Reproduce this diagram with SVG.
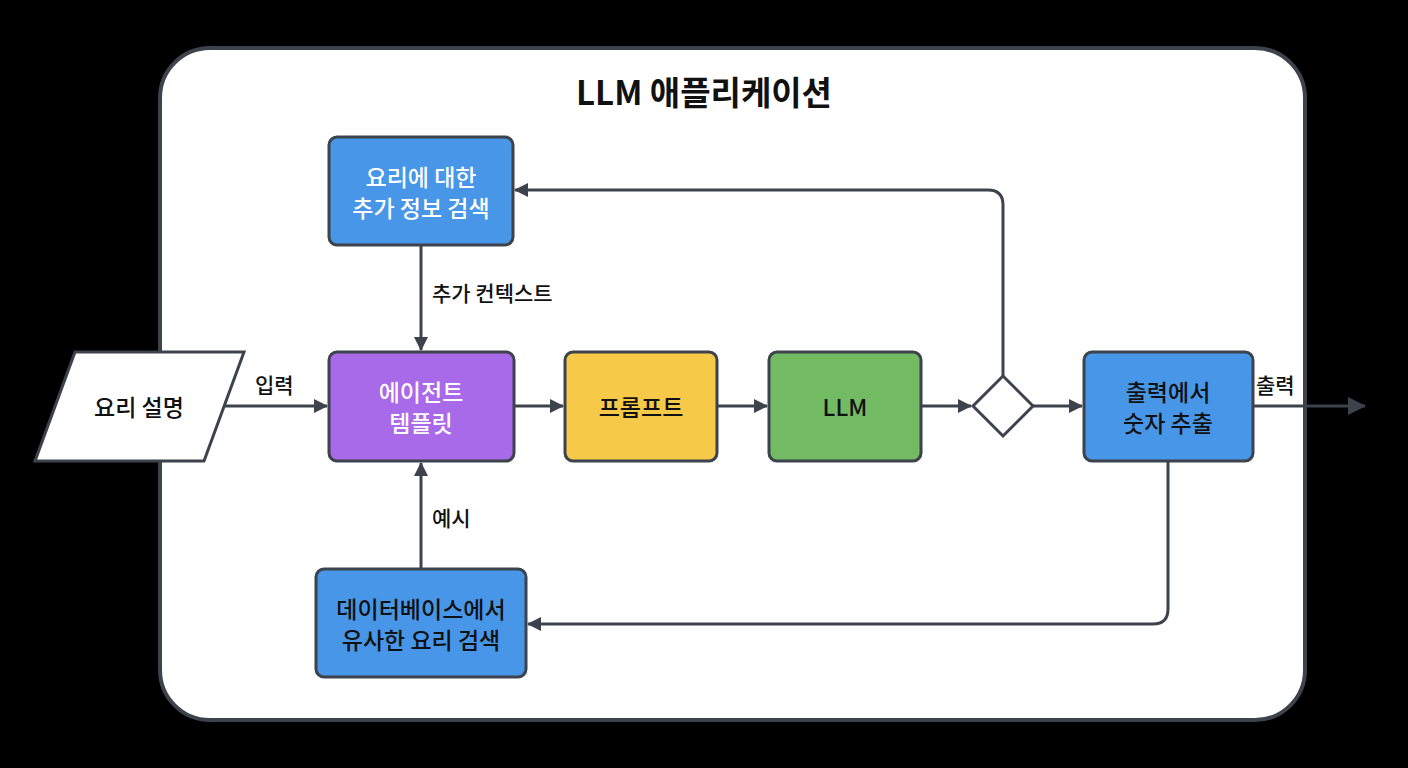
<svg xmlns="http://www.w3.org/2000/svg" width="1408" height="768" viewBox="0 0 1408 768">
<defs>
<marker id="ah" markerWidth="14" markerHeight="14" refX="13" refY="7" orient="auto" markerUnits="userSpaceOnUse" viewBox="0 0 14 14"><path d="M0,0 L14,7 L0,14 z" fill="#3d434c"/></marker>
<marker id="ah2" markerWidth="18" markerHeight="18" refX="17" refY="9" orient="auto" markerUnits="userSpaceOnUse" viewBox="0 0 18 18"><path d="M0,0 L18,9 L0,18 z" fill="#3d434c"/></marker>
<style>
.t{font-family:"Noto Sans CJK KR","Noto Sans",sans-serif;font-size:23px;font-weight:500;text-anchor:middle;dominant-baseline:central}
.w{fill:#fff}
.k{fill:#111}
.b{stroke:#3d434c;stroke-width:3}
.c{fill:none;stroke:#3d434c;stroke-width:3;marker-end:url(#ah)}
.l{font-family:"Noto Sans CJK KR","Noto Sans",sans-serif;font-size:21px;font-weight:500;fill:#111;dominant-baseline:central}
</style>
</defs>
<rect width="1408" height="768" fill="#000"/>
<rect x="160" y="48" width="1145" height="672" rx="50" fill="#fff" stroke="#3d434c" stroke-width="4"/>
<text x="704" y="91" class="t k" style="font-size:33px;font-weight:700">LLM 애플리케이션</text>
<g id="connectors">
<line x1="224" y1="406" x2="327" y2="406" class="c"/>
<text x="255" y="384" class="l">입력</text>
<line x1="514" y1="406" x2="563" y2="406" class="c"/>
<line x1="717" y1="406" x2="767" y2="406" class="c"/>
<line x1="921" y1="406" x2="971" y2="406" class="c"/>
<line x1="1033" y1="406" x2="1082" y2="406" class="c"/>
<line x1="1253" y1="406" x2="1365" y2="406" class="c" style="marker-end:url(#ah2)"/>
<text x="1256" y="384" class="l">출력</text>
<path d="M1003,376 V205 Q1003,190 988,190 H515" class="c"/>
<line x1="421" y1="245" x2="421" y2="350" class="c"/>
<text x="432" y="292" class="l">추가 컨텍스트</text>
<line x1="421" y1="569" x2="421" y2="463" class="c"/>
<text x="432" y="517" class="l">예시</text>
<path d="M1168,461 V609 Q1168,624 1153,624 H528" class="c"/>
</g>
<g id="input"><polygon points="35,461 75,352 244,352 204,461" fill="#fff" class="b"/><text x="139" y="406" class="t k">요리 설명</text></g>
<g id="search"><rect x="329" y="137" width="184" height="108" rx="8" fill="#4796e8" class="b"/><text x="421" y="176" class="t w">요리에 대한</text><text x="421" y="207" class="t w">추가 정보 검색</text></g>
<g id="agent"><rect x="329" y="352" width="185" height="109" rx="8" fill="#a86ae8" class="b"/><text x="421" y="391" class="t w">에이전트</text><text x="421" y="422" class="t w">템플릿</text></g>
<g id="prompt"><rect x="565" y="352" width="152" height="109" rx="8" fill="#f7c948" class="b"/><text x="641" y="406" class="t k">프롬프트</text></g>
<g id="llm"><rect x="769" y="352" width="152" height="109" rx="8" fill="#73bb63" class="b"/><text x="845" y="406" class="t k">LLM</text></g>
<g id="decision"><polygon points="1003,376 1033,406 1003,436 973,406" fill="#fff" class="b"/></g>
<g id="extract"><rect x="1084" y="352" width="169" height="109" rx="8" fill="#4796e8" class="b"/><text x="1168" y="391" class="t k">출력에서</text><text x="1168" y="422" class="t k">숫자 추출</text></g>
<g id="db"><rect x="316" y="569" width="210" height="108" rx="8" fill="#4796e8" class="b"/><text x="421" y="608" class="t k">데이터베이스에서</text><text x="421" y="639" class="t k">유사한 요리 검색</text></g>
</svg>
